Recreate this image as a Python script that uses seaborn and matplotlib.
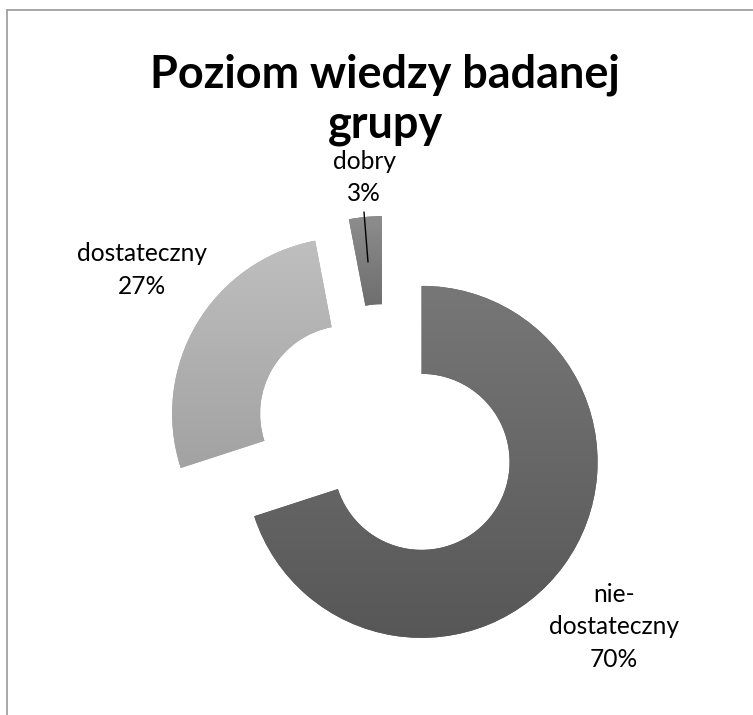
import numpy as np
import matplotlib
matplotlib.use("Agg")
import matplotlib.pyplot as plt
import seaborn as sns
from matplotlib.colors import LinearSegmentedColormap
from matplotlib.lines import Line2D

# ---- data ----
categories = ["niedostateczny", "dostateczny", "dobry"]
values = [70, 27, 3]
label_lines = [["nie-", "dostateczny"], ["dostateczny"], ["dobry"]]
title_lines = ["Poziom wiedzy badanej", "grupy"]

sns.set_theme(style="white")
plt.rcParams["font.family"] = ["Lato", "DejaVu Sans"]

W, H = 753, 715
CX, CY, R = 386, 436, 176  # pie centre / radius in pixels

fig = plt.figure(figsize=(W / 100, H / 100), dpi=100)
fig.patch.set_facecolor("white")
ax = fig.add_axes([0, 0, 1, 1])

grad_colors = [("#777777", "#575757"), ("#bfbfbf", "#a2a2a2"), ("#8d8d8d", "#6e6e6e")]

wedges, _ = ax.pie(values, radius=1.0, startangle=90, counterclock=False,
                   explode=[0.25] * len(values),
                   colors=[c[1] for c in grad_colors],
                   wedgeprops=dict(width=0.5, linewidth=0, edgecolor="none"))
for w, (ctop, cbot) in zip(wedges, grad_colors):
    ext = w.get_path().get_extents()
    cmap = LinearSegmentedColormap.from_list("g", [cbot, ctop])
    grad = np.linspace(0, 1, 256).reshape(-1, 1)
    im = ax.imshow(grad, cmap=cmap, origin="lower", aspect="auto",
                   extent=(ext.x0, ext.x1, ext.y0, ext.y1),
                   interpolation="bilinear", zorder=w.get_zorder() + 0.1)
    im.set_clip_path(w)

ax.set_xlim(-CX / R, (W - CX) / R)
ax.set_ylim(-(H - CY) / R, CY / R)
ax.set_aspect("auto")
ax.axis("off")


def fx(x):
    return x / W


def fy(y):
    return 1 - y / H


renderer = fig.canvas.get_renderer()


def fit_size(text, target_px, weight="normal"):
    t = fig.text(0, 0, text, fontsize=20, fontweight=weight)
    w = t.get_window_extent(renderer).width
    t.remove()
    return 20 * target_px / w


# title
tsize = fit_size(title_lines[0], 470, "bold")
for line, base in zip(title_lines, [88, 137]):
    fig.text(fx(385), fy(base), line, ha="center", va="baseline",
             fontsize=tsize, fontweight="bold", color="black")

# data labels
lsize = fit_size("dostateczny", 130)
label_pos = [(614, [602, 634, 667]), (142, [261, 294]), (364, [169, 201])]
for lines, v, (x, bases) in zip(label_lines, values, label_pos):
    for s, b in zip(lines + [f"{v}%"], bases):
        fig.text(fx(x), fy(b), s, ha="center", va="baseline",
                 fontsize=lsize, color="black")

# leader line for the small slice
ax.plot([(364 - CX) / R, (368 - CX) / R], [(CY - 212) / R, (CY - 262) / R],
        color="black", lw=1.0, zorder=5)

# chart frame (cut at right/bottom)
fig.add_artist(Line2D([fx(7), fx(7)], [fy(10), fy(H + 5)], color="#a0a0a0", lw=1.3))
fig.add_artist(Line2D([fx(7), fx(W + 5)], [fy(10), fy(10)], color="#a0a0a0", lw=1.3))

fig.savefig("out.png", dpi=100, facecolor="white")
